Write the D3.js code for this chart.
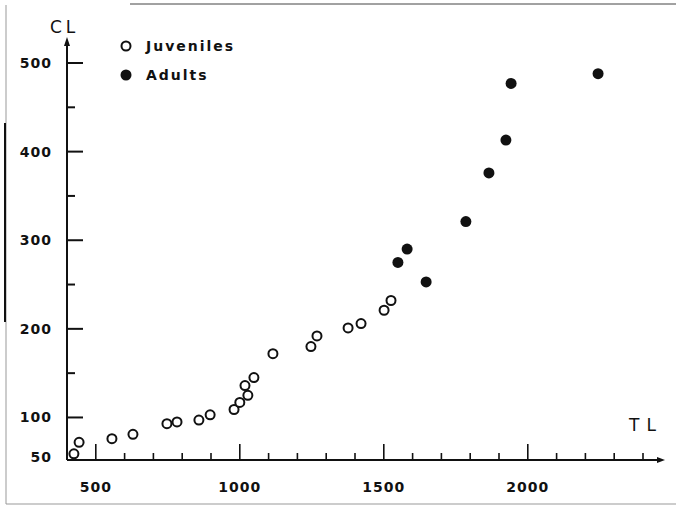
<!DOCTYPE html>
<html>
<head>
<meta charset="utf-8">
<script src="https://cdn.jsdelivr.net/npm/d3@7"></script>
<style>
  body { margin: 0; background: #fff; }
  svg text { font-family: "DejaVu Sans", sans-serif; fill: #111; }
</style>
</head>
<body>
<script>
// juveniles (open circles)
const juvTL = [424, 442, 556, 629, 747, 782, 858, 897, 980, 1000, 1028, 1018, 1049, 1115, 1247, 1268, 1376, 1421, 1501, 1525];
const juvCL = [59, 72, 76, 81, 93, 95, 97, 103, 109, 117, 125, 136, 145, 172, 180, 192, 201, 206, 221, 232];
// adults (filled)
const adTL = [1549, 1581, 1647, 1785, 1865, 1924, 1942, 2244];
const adCL = [275, 290, 253, 321, 376, 413, 477, 488];

const xLabels = [500, 1000, 1500, 2000];
const yLabels = [50, 100, 200, 300, 400, 500];
const legendNames = ["Juveniles", "Adults"];

const width = 676, height = 506;
const svg = d3.select("body").append("svg")
  .attr("width", width).attr("height", height);

const x = d3.scaleLinear().domain([400, 2400]).range([67, 643]);
const y = d3.scaleLinear().domain([52, 500]).range([460, 63]);

// scan frame
const frame = svg.append("g").attr("stroke", "#999").attr("fill", "none");
frame.append("line").attr("x1", 6).attr("y1", 5).attr("x2", 6).attr("y2", 504);
frame.append("line").attr("x1", 6).attr("y1", 504).attr("x2", 676).attr("y2", 504);
frame.append("line").attr("x1", 130).attr("y1", 4).attr("x2", 676).attr("y2", 4).attr("stroke", "#444");
svg.append("line").attr("x1", 5).attr("y1", 123).attr("x2", 5).attr("y2", 322)
  .attr("stroke", "#111").attr("stroke-width", 2);

// axes
const ax = svg.append("g").attr("stroke", "#111").attr("stroke-width", 2);
ax.append("line").attr("x1", x(400)).attr("y1", y(52)).attr("x2", 658).attr("y2", y(52));
ax.append("line").attr("x1", x(400)).attr("y1", y(52)).attr("x2", x(400)).attr("y2", 44);
svg.append("path").attr("d", `M${x(400) - 3},46 L${x(400)},37 L${x(400) + 3},46 Z`).attr("fill", "#111");
svg.append("path").attr("d", `M657,${y(52) - 3} L665,${y(52)} L657,${y(52) + 3} Z`).attr("fill", "#111");

// x ticks every 100
const xt = d3.range(500, 2401, 100);
ax.selectAll(".xt").data(xt).join("line")
  .attr("x1", d => x(d)).attr("x2", d => x(d))
  .attr("y1", y(52))
  .attr("y2", d => y(52) - (d % 500 === 0 ? 16 : 7))
  .attr("stroke-width", 1.6);

// y ticks every 50
const yt = d3.range(100, 501, 50);
ax.selectAll(".yt").data(yt).join("line")
  .attr("y1", d => y(d)).attr("y2", d => y(d))
  .attr("x1", x(400))
  .attr("x2", d => x(400) + (d % 100 === 0 ? 16 : 8))
  .attr("stroke-width", 2);

svg.selectAll(".xl").data(xLabels).join("text")
  .attr("x", d => x(d)).attr("y", 492)
  .attr("text-anchor", "middle")
  .attr("font-size", 14).attr("font-weight", "bold").attr("letter-spacing", 1)
  .text(d => d);

svg.selectAll(".yl").data(yLabels).join("text")
  .attr("x", 52).attr("y", d => d === 50 ? 462 : y(d) + 5)
  .attr("text-anchor", "end")
  .attr("font-size", 14).attr("font-weight", "bold").attr("letter-spacing", 1)
  .text(d => d);

svg.append("text").attr("x", 50).attr("y", 33)
  .attr("font-size", 17).attr("letter-spacing", 4).text("CL");
svg.append("text").attr("x", 629).attr("y", 431)
  .attr("font-size", 17).attr("letter-spacing", 7).text("TL");

// points
const juv = juvTL.map((t, i) => ({ tl: t, cl: juvCL[i] }));
const ad = adTL.map((t, i) => ({ tl: t, cl: adCL[i] }));

svg.selectAll(".juv").data(juv).join("circle")
  .attr("cx", d => x(d.tl)).attr("cy", d => y(d.cl)).attr("r", 4.5)
  .attr("fill", "#fff").attr("stroke", "#111").attr("stroke-width", 2);

svg.selectAll(".ad").data(ad).join("circle")
  .attr("cx", d => x(d.tl)).attr("cy", d => y(d.cl)).attr("r", 5.5)
  .attr("fill", "#111");

// legend
const lg = svg.append("g");
lg.append("circle").attr("cx", 126).attr("cy", 46).attr("r", 4.5)
  .attr("fill", "#fff").attr("stroke", "#111").attr("stroke-width", 2);
lg.append("circle").attr("cx", 126).attr("cy", 75).attr("r", 5.5).attr("fill", "#111");
lg.selectAll("text").data(legendNames).join("text")
  .attr("x", 146).attr("y", (d, i) => 51 + i * 29)
  .attr("font-size", 14).attr("font-weight", "bold").attr("letter-spacing", 2)
  .text(d => d);
</script>
</body>
</html>
